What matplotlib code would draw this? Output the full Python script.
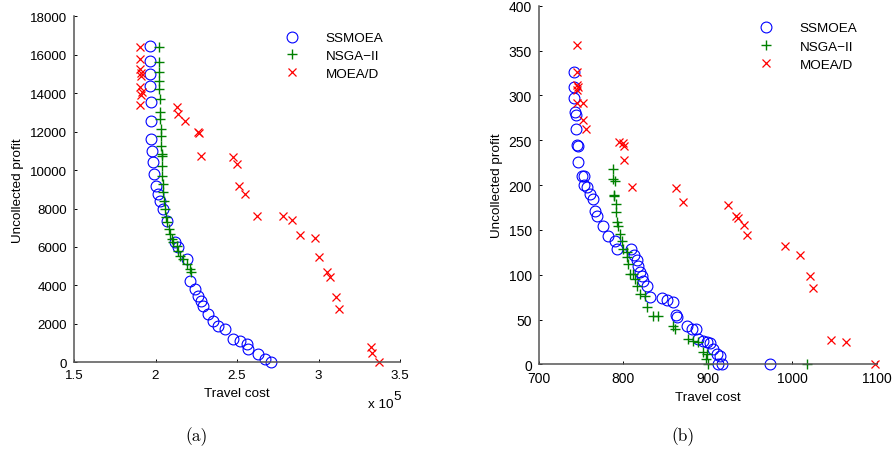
import numpy as np
import matplotlib.pyplot as plt

plt.rcParams['font.family'] = ['Liberation Sans', 'DejaVu Sans']

# ---- panel (a): travel cost in units of 1e5 ----
a_ss_x = [1.966, 1.966, 1.966, 1.968, 1.970, 1.975, 1.975, 1.978, 1.985, 1.992,
          2.000, 2.015, 2.030, 2.048, 2.070, 2.120, 2.140, 2.190, 2.210, 2.240,
          2.260, 2.280, 2.290, 2.320, 2.350, 2.385, 2.425, 2.477, 2.520, 2.560,
          2.570, 2.630, 2.670, 2.710]
a_ss_y = [16430, 15690, 14990, 14390, 13525, 12570, 11615, 11010, 10400, 9795,
          9187, 8755, 8405, 7975, 7366, 6240, 5980, 5374, 4245, 3813,
          3465, 3204, 2944, 2512, 2164, 1904, 1732, 1212, 1124, 952,
          692, 432, 172, 0]

a_ns_x = [2.023, 2.023, 2.023, 2.023, 2.023, 2.028, 2.028, 2.028, 2.032, 2.032,
          2.032, 2.038, 2.038, 2.038, 2.042, 2.048, 2.048, 2.054, 2.058, 2.064,
          2.069, 2.080, 2.090, 2.100, 2.110, 2.130, 2.140, 2.150, 2.170, 2.190,
          2.210, 2.220]
a_ns_y = [16390, 15610, 15090, 14650, 14220, 13700, 13005, 12660, 12140, 11790,
          11270, 10835, 10750, 10230, 9710, 9275, 8845, 8405, 7975, 7540,
          7280, 6935, 6675, 6415, 6240, 6067, 5805, 5545, 5374, 5113,
          4853, 4680]

a_mo_x = [1.905, 1.905, 1.903, 1.912, 1.908, 1.905, 1.915, 1.910, 1.905,
          2.130, 2.140, 2.180, 2.260, 2.265, 2.280, 2.477, 2.500, 2.510, 2.550,
          2.620, 2.784, 2.835, 2.887, 2.980, 3.000, 3.050, 3.070, 3.105, 3.126,
          3.320, 3.330, 3.370]
a_mo_y = [16400, 15800, 15250, 15050, 14900, 14300, 14050, 13900, 13400,
          13265, 12915, 12570, 11990, 11940, 10750, 10665, 10315, 9187, 8755,
          7626, 7595, 7420, 6620, 6450, 5460, 4680, 4420, 3380, 2770,
          780, 485, 0]

# ---- panel (b) ----
b_ss_x = [741.8, 741.8, 741.8, 742.7, 743.8, 743.5, 744.7, 745.9, 746.6, 750.6,
          753.3, 753.3, 756.5, 760.4, 764.3, 766.4, 769.1, 776.2, 782.1, 790.1,
          792.1, 808.6, 812.6, 815.7, 817.7, 819.7, 822.4, 823.6, 827.6, 831.5,
          845.4, 851.3, 858.4, 862.3, 863.1, 875.7, 880.9, 886.0, 888.7, 893.9,
          898.7, 902.6, 906.5, 910.5, 914.5, 912.4, 916.5, 973.7]
b_ss_y = [326.4, 309.7, 296.8, 281.1, 278.1, 262.5, 244.7, 243.2, 226.1, 210.5,
          209.8, 200.1, 197.5, 190.0, 184.5, 171.5, 165.9, 154.7, 143.6, 138.0,
          128.8, 128.8, 122.1, 116.5, 109.5, 102.8, 98.3, 93.4, 87.2, 74.9,
          73.8, 72.2, 69.3, 55.2, 52.6, 43.3, 39.6, 39.6, 28.4, 26.5,
          24.7, 24.0, 17.3, 11.7, 9.8, 0.6, 0.0, 0.0]

b_ns_x = [787.3, 788.0, 790.1, 789.2, 790.9, 789.2, 791.2, 792.1, 794.0, 796.0,
          798.0, 799.9, 803.9, 803.9, 805.8, 807.8, 811.7, 813.7, 815.7, 819.7,
          825.6, 827.6, 835.5, 841.4, 859.2, 861.1, 876.9, 882.8, 888.7, 894.7,
          898.7, 897.9, 900.6, 1017.2]
b_ns_y = [218.0, 206.8, 204.9, 188.9, 178.9, 188.2, 169.7, 158.5, 154.7, 145.5,
          138.0, 128.8, 125.1, 119.5, 112.0, 100.9, 100.9, 95.3, 87.8, 78.6,
          76.7, 63.8, 54.4, 54.4, 43.3, 39.6, 28.4, 26.5, 24.7, 13.6,
          11.7, 6.1, 0.6, 0.0]

b_mo_x = [744.7, 745.4, 745.4, 746.6, 745.4, 744.7, 751.8, 752.5, 755.7, 795.2,
          799.2, 800.7, 800.7, 809.8, 862.3, 870.9, 924.3, 933.4, 935.0, 942.9,
          946.1, 990.6, 1009.2, 1020.3, 1023.8, 1045.6, 1063.4, 1097.3]
b_mo_y = [356.2, 326.4, 311.6, 309.0, 306.4, 291.5, 291.5, 272.9, 262.5, 248.4,
          246.9, 243.9, 228.0, 197.5, 196.4, 181.5, 178.0, 165.9, 163.0, 155.5,
          144.4, 131.8, 122.1, 98.3, 85.6, 27.3, 25.4, 0.0]

labels = ['SSMOEA', 'NSGA\u2212II', 'MOEA/D']

fig = plt.figure(figsize=(8.94, 4.56), dpi=100)
ax1 = fig.add_axes([0.0828, 0.2033, 0.3647, 0.7588])
ax2 = fig.add_axes([0.6029, 0.1985, 0.3780, 0.7868])


def draw(ax, ss, ns, mo, fs):
    ax.plot(ss[0], ss[1], 'o', mfc='none', mec='#0000ff', ms=7.8, mew=0.8,
            clip_on=False, label=labels[0])
    ax.plot(ns[0], ns[1], '+', color='#008000', ms=7.5, mew=1.0,
            clip_on=False, label=labels[1])
    ax.plot(mo[0], mo[1], 'x', color='#ff0000', ms=5.5, mew=0.9,
            clip_on=False, label=labels[2])
    for s in ['top', 'right']:
        ax.spines[s].set_visible(False)
    for s in ['left', 'bottom']:
        ax.spines[s].set_color('#555555')
        ax.spines[s].set_linewidth(1.1)
    ax.tick_params(direction='in', length=2.5, width=0.7, labelsize=fs,
                   pad=5, colors='black')
    ax.set_xlabel('Travel cost', fontsize=9.7, labelpad=4)
    ax.set_ylabel('Uncollected profit', fontsize=9.7)


draw(ax1, (a_ss_x, a_ss_y), (a_ns_x, a_ns_y), (a_mo_x, a_mo_y), 9.6)
ax1.set_xlim(1.5, 3.5)
ax1.set_ylim(0, 18000)
ax1.set_xticks([1.5, 2, 2.5, 3, 3.5])
ax1.set_xticklabels(['1.5', '2', '2.5', '3', '3.5'])
ax1.set_yticks(np.arange(0, 18001, 2000))

draw(ax2, (b_ss_x, b_ss_y), (b_ns_x, b_ns_y), (b_mo_x, b_mo_y), 10)
ax2.set_xlim(700, 1100)
ax2.set_ylim(0, 400)
ax2.set_xticks(np.arange(700, 1101, 100))
ax2.set_yticks(np.arange(0, 401, 50))

ax1.legend(loc='upper left', bbox_to_anchor=(279 / 894, 1 - 33 / 456),
           bbox_transform=fig.transFigure, frameon=False, fontsize=9.7,
           numpoints=1, borderpad=0, borderaxespad=0, handlelength=2,
           handletextpad=1.45, labelspacing=0.38)
ax2.legend(loc='upper left', bbox_to_anchor=(753 / 894, 1 - 23 / 456),
           bbox_transform=fig.transFigure, frameon=False, fontsize=9.7,
           numpoints=1, borderpad=0, borderaxespad=0, handlelength=2,
           handletextpad=1.45, labelspacing=0.42)

fig.text(381 / 894, 1 - 405 / 456, 'x 10', fontsize=9.7, ha='center', va='center')
fig.text(397 / 894, 1 - 397 / 456, '5', fontsize=9.7, ha='center', va='center')

fig.text(197 / 894, 1 - 437 / 456, '(a)', family='cmr10', fontsize=12.5,
         ha='center', va='center')
fig.text(683 / 894, 1 - 437 / 456, '(b)', family='cmr10', fontsize=12.5,
         ha='center', va='center')

fig.savefig('out.png', dpi=100)
